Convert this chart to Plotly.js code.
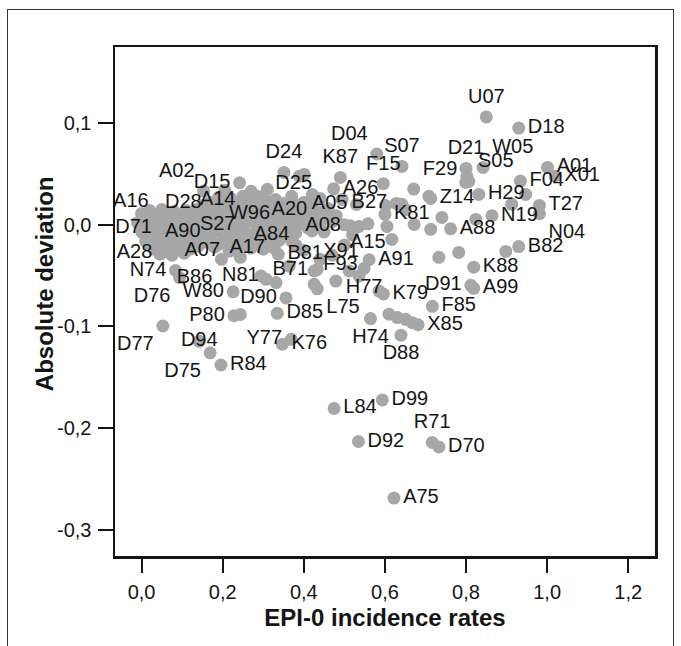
<!DOCTYPE html>
<html>
<head>
<meta charset="utf-8">
<script src="https://cdn.plot.ly/plotly-3.0.1.min.js"></script>
<style>
  html, body { margin: 0; padding: 0; background: #fff; overflow: hidden; }
  #chart { width: 681px; height: 646px; position: absolute; left: 0; top: 0; }
  #frame { position: absolute; left: 7px; top: 9px; width: 665px; height: 660px; border: 1.5px solid #333; pointer-events: none; }
</style>
</head>
<body>
<div id="chart"></div>
<div id="frame"></div>
<script>
// ---- Data: labelled points ----
const labels = ["U07","D18","D04","S07","W05","D21","K87","F15","A02","D24","A01","F29","S05","F04","X01","D15","D25","A26","H29","A16","D28","A14","Z14","T27","A05","B27","W96","A20","K81","N19","D71","A90","S27","A08","A88","N04","A84","A15","B82","A28","A07","A17","B81","X91","A91","N74","K88","B86","N81","B71","F93","H77","D91","A99","W80","D76","K79","F85","D90","P80","L75","D85","X85","H74","D94","Y77","K76","D77","D88","D75","R84","L84","D99","D92","R71","D70","A75"];
const labX = [0.850,0.930,0.580,0.642,0.842,0.800,0.490,0.596,0.153,0.351,1.001,0.671,0.807,0.934,1.020,0.2416,0.375,0.4735,0.8315,0.040,0.103,0.254,0.713,0.981,0.530,0.628,0.193,0.298,0.600,0.864,0.048,0.168,0.254,0.514,0.762,0.981,0.254,0.558,0.930,0.049,0.216,0.327,0.337,0.4255,0.561,0.0836,0.819,0.197,0.2435,0.433,0.4255,0.5486,0.812,0.819,0.2256,0.0935,0.5963,0.717,0.356,0.2278,0.433,0.3346,0.6819,0.5644,0.1422,0.369,0.347,0.0524,0.6396,0.169,0.1956,0.4748,0.5936,0.5346,0.7166,0.7331,0.6224];
const labY = [0.1062,0.0952,0.0697,0.0575,0.0565,0.0555,0.0466,0.0405,0.0332,0.0515,0.0565,0.0352,0.0427,0.0430,0.0479,0.0413,0.021,0.0354,0.0299,0.004,0.003,0.024,0.026,0.0191,0.020,0.021,0.011,0.015,0.0102,0.009,-0.003,-0.007,0.000,-0.001,-0.004,0.011,-0.0104,0.001,-0.0214,-0.028,-0.026,-0.023,-0.029,-0.0455,-0.0344,-0.045,-0.0417,-0.034,-0.032,-0.044,-0.0586,-0.043,-0.0596,-0.0625,-0.066,-0.052,-0.068,-0.0802,-0.072,-0.0895,-0.063,-0.0871,-0.0984,-0.0923,-0.1147,-0.1127,-0.1176,-0.0996,-0.1086,-0.126,-0.138,-0.1808,-0.1724,-0.2133,-0.2143,-0.2186,-0.269];

// ---- Data: unlabelled points (dense cluster and scattered) ----
const extraX = [
  0.15,0.18,0.21,0.26,0.30,0.34,0.38,0.42,0.46,
  0.00,0.03,0.06,0.09,0.12,0.15,0.185,0.22,0.25,0.28,0.31,0.345,0.37,0.40,0.44,0.48,
  -0.01,0.02,0.05,0.08,0.11,0.14,0.17,0.20,0.23,0.27,0.30,0.33,0.36,0.39,0.43,0.47,0.50,
  0.00,0.03,0.06,0.09,0.12,0.15,0.19,0.22,0.25,0.29,0.32,0.35,0.38,0.42,0.45,
  0.01,0.04,0.07,0.10,0.13,0.16,0.20,0.24,0.28,0.31,0.34,0.37,
  0.03,0.06,0.09,0.12,0.18,0.23,0.27,0.30,
  0.19,0.22,0.25,0.29,0.33,0.37,0.44,
  0.205,0.27,0.31,
  0.02,0.05,0.08,0.11,0.135,0.165,0.20,0.235,0.27,0.32,0.36,0.41,
  0.015,0.045,0.075,0.105,0.13,0.16,0.21,0.24,0.265,0.295,0.325,0.355,0.385,0.42,0.46,
  0.005,0.035,0.065,0.095,0.125,0.155,0.185,0.215,0.245,0.285,0.315,0.345,0.375,0.41,0.44,
  0.015,0.045,0.075,0.105,0.135,0.17,0.205,0.235,0.27,0.30,0.33,0.36,
  0.02,0.05,0.08,0.11,0.14,0.19,0.215,0.26,0.29,0.32,
  0.17,0.20,0.235,0.28,0.31,0.35,0.40,
  0.045,0.075,0.105,
  0.4207,0.4945,0.401,0.389,0.286,0.536,0.605,0.642,0.672,0.713,0.7085,0.7405,0.7995,0.802,0.824,0.617,0.947,0.9127,0.898,0.782,0.733,
  0.5855,0.610,0.6305,0.651,0.6675,0.479,0.5117,0.536,0.3314,0.3068,0.2945,0.364,0.2436,0.44,0.40,0.38,0.47,0.50,0.52,0.6017,0.65
];
const extraY = [
  0.019,0.017,0.020,0.018,0.016,0.019,0.017,0.018,0.016,
  0.011,0.009,0.012,0.010,0.008,0.011,0.010,0.009,0.012,0.010,0.008,0.011,0.009,0.010,0.012,0.009,
  0.002,0.003,0.001,0.002,0.004,0.001,0.003,0.002,0.000,0.003,0.001,0.002,0.004,0.001,0.002,0.003,0.000,
  -0.007,-0.006,-0.008,-0.007,-0.005,-0.008,-0.006,-0.007,-0.009,-0.006,-0.007,-0.005,-0.008,-0.006,-0.007,
  -0.016,-0.015,-0.017,-0.016,-0.014,-0.017,-0.015,-0.016,-0.014,-0.017,-0.015,-0.016,
  -0.024,-0.025,-0.023,-0.024,-0.022,-0.025,-0.023,-0.024,
  0.027,0.026,0.028,0.027,0.025,0.028,0.026,
  0.034,0.033,0.035,
  0.014,0.015,0.013,0.014,0.015,0.013,0.014,0.015,0.013,0.014,0.015,0.013,
  0.006,0.005,0.007,0.006,0.005,0.007,0.006,0.005,0.007,0.006,0.005,0.007,0.006,0.005,0.006,
  -0.002,-0.003,-0.001,-0.002,-0.003,-0.001,-0.002,-0.003,-0.001,-0.002,-0.003,-0.001,-0.002,-0.003,-0.002,
  -0.011,-0.012,-0.010,-0.011,-0.012,-0.010,-0.011,-0.012,-0.010,-0.011,-0.012,-0.010,
  -0.020,-0.021,-0.019,-0.020,-0.021,-0.019,-0.020,-0.021,-0.019,-0.020,
  0.022,0.023,0.021,0.022,0.023,0.021,0.022,
  -0.029,-0.030,-0.028,
  0.0297,0.025,0.0496,0.0479,0.0282,-0.0016,-0.0016,0.0201,0.0004,-0.0045,0.028,0.0073,0.0417,0.0476,0.0053,-0.0144,0.0299,0.0201,-0.0262,-0.0272,-0.032,
  -0.0652,-0.088,-0.0913,-0.093,-0.0963,-0.0554,-0.0455,-0.0504,-0.0569,-0.0537,-0.0504,-0.0406,-0.0883,-0.034,-0.025,-0.020,-0.030,-0.020,-0.010,0.019,0.015
];

// ---- Ticks ----
const xTickVals = [0, 0.2, 0.4, 0.6, 0.8, 1.0, 1.2];
const xTickText = ["0,0", "0,2", "0,4", "0,6", "0,8", "1,0", "1,2"];
const yTickVals = [0.1, 0.0, -0.1, -0.2, -0.3];
const yTickText = ["0,1", "0,0", "-0,1", "-0,2", "-0,3"];

// ---- Styles (label placement) ----
const labPos = ["top center","middle right","top left","top center","top right","top center","top center","top center","top left","top center","middle right","top right","top right","middle right","middle right","middle left","top center","middle right","middle right","top left","top center","middle left","middle right","middle right","middle left","middle left","middle right","middle right","middle right","middle right","middle left","middle left","middle left","middle left","middle right","bottom right","middle right","bottom center","middle right","middle left","middle left","middle left","middle right","top right","middle right","middle left","middle right","bottom left","bottom center","middle left","top right","bottom center","middle left","middle right","middle left","bottom left","middle right","middle right","middle left","middle left","bottom right","middle right","middle right","bottom center","middle center","middle left","middle right","bottom left","bottom center","bottom left","middle right","middle right","middle right","middle right","top center","middle right","middle right"];

const FONT = "Liberation Sans, Arial, Helvetica, sans-serif";
const INK = "#151515";
const markerStyle = { size: 13, color: "#a7a7a7", line: { width: 0 } };

const traces = [
  { type: "scatter", mode: "markers", x: extraX, y: extraY, marker: markerStyle, hoverinfo: "skip", cliponaxis: false },
  { type: "scatter", mode: "markers+text", x: labX, y: labY, text: labels, textposition: labPos,
    textfont: { family: FONT, size: 20, color: INK }, marker: markerStyle, cliponaxis: false }
];

const layout = {
  width: 681, height: 646,
  margin: { l: 115, r: 26, t: 47, b: 90, pad: 0 },
  paper_bgcolor: "#ffffff", plot_bgcolor: "#ffffff",
  showlegend: false,
  font: { family: FONT, color: INK },
  xaxis: {
    range: [-0.0656, 1.266], tickvals: xTickVals, ticktext: xTickText,
    ticks: "outside", ticklen: 14, tickwidth: 2, tickcolor: INK,
    showline: true, mirror: true, linewidth: 2.5, linecolor: INK,
    showgrid: false, zeroline: false, automargin: false,
    tickfont: { family: FONT, size: 20, color: INK },
    ticklabelstandoff: 2,
    title: { text: "<b>EPI-0 incidence rates</b>", font: { family: FONT, size: 24, color: INK }, standoff: 8 }
  },
  yaxis: {
    range: [-0.326, 0.175], tickvals: yTickVals, ticktext: yTickText,
    ticks: "outside", ticklen: 15, tickwidth: 2, tickcolor: INK,
    showline: true, mirror: true, linewidth: 2.5, linecolor: INK,
    showgrid: false, zeroline: false, automargin: false,
    tickfont: { family: FONT, size: 20, color: INK },
    ticklabelstandoff: 2
  },
  annotations: [{
    text: "<b>Absolute deviation</b>", xref: "paper", yref: "paper",
    x: -0.1315, y: 0.536, xanchor: "center", yanchor: "middle", textangle: -90,
    showarrow: false, font: { family: FONT, size: 24, color: INK }
  }]
};

Plotly.newPlot("chart", traces, layout, { staticPlot: true, displayModeBar: false });
</script>
</body>
</html>
